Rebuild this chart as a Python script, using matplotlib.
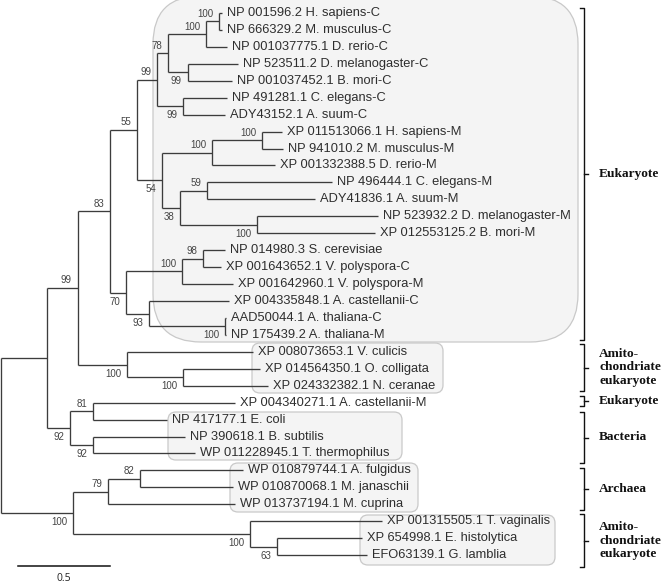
import numpy as np
import matplotlib
matplotlib.use("Agg")
import matplotlib.pyplot as plt
from matplotlib.patches import FancyBboxPatch

# ==============================================================================
# 1. Tree data (branch depths, in substitutions/site)
# ==============================================================================

leaf_names = [
    "NP 001596.2 H. sapiens-C", "NP 666329.2 M. musculus-C", "NP 001037775.1 D. rerio-C",
    "NP 523511.2 D. melanogaster-C", "NP 001037452.1 B. mori-C", "NP 491281.1 C. elegans-C",
    "ADY43152.1 A. suum-C", "XP 011513066.1 H. sapiens-M", "NP 941010.2 M. musculus-M",
    "XP 001332388.5 D. rerio-M", "NP 496444.1 C. elegans-M", "ADY41836.1 A. suum-M",
    "NP 523932.2 D. melanogaster-M", "XP 012553125.2 B. mori-M", "NP 014980.3 S. cerevisiae",
    "XP 001643652.1 V. polyspora-C", "XP 001642960.1 V. polyspora-M", "XP 004335848.1 A. castellanii-C",
    "AAD50044.1 A. thaliana-C", "NP 175439.2 A. thaliana-M", "XP 008073653.1 V. culicis",
    "XP 014564350.1 O. colligata", "XP 024332382.1 N. ceranae", "XP 004340271.1 A. castellanii-M",
    "NP 417177.1 E. coli", "NP 390618.1 B. subtilis", "WP 011228945.1 T. thermophilus",
    "WP 010879744.1 A. fulgidus", "WP 010870068.1 M. janaschii", "WP 013737194.1 M. cuprina",
    "XP 001315505.1 T. vaginalis", "XP 654998.1 E. histolytica", "EFO63139.1 G. lamblia",
]
leaf_depth = [
    1.201, 1.201, 1.228, 1.288, 1.255, 1.228, 1.217, 1.527, 1.533, 1.489, 1.799,
    1.707, 2.049, 2.033, 1.217, 1.196, 1.261, 1.239, 1.223, 1.223, 1.370, 1.408,
    1.451, 1.272, 0.902, 1.000, 1.054, 1.315, 1.261, 1.272, 2.071, 1.962, 1.989,
]

# internal nodes: ids 33.. follow the leaves (0..32)
node_children = [
    (0, 1), (33, 2), (3, 4), (34, 35), (5, 6), (36, 37), (7, 8), (39, 9), (10, 11),
    (12, 13), (41, 42), (40, 43), (38, 44), (14, 15), (46, 16), (18, 19), (17, 48),
    (47, 49), (45, 50), (21, 22), (20, 52), (51, 53), (23, 24), (25, 26), (55, 56),
    (54, 57), (27, 28), (59, 29), (31, 32), (30, 61), (60, 62), (58, 63),
]
node_depth = [
    1.185, 1.114, 1.016, 0.908, 0.989, 0.848, 1.418, 1.147, 1.120, 1.391, 0.973,
    0.875, 0.739, 1.098, 0.984, 1.217, 0.804, 0.679, 0.592, 0.989, 0.685, 0.418,
    0.500, 0.500, 0.375, 0.250, 0.755, 0.582, 1.500, 1.353, 0.391, 0.000,
]
node_support = [
    100, 100, 99, 78, 99, 99, 100, 100, 59, 100, 38, 54, 55, 98, 100, 100, 93,
    70, 83, 100, 100, 99, 81, 92, 92, None, 82, 79, 63, 100, 100, None,
]

group_names = ["Eukaryote", "Amito-\nchondriate\neukaryote", "Eukaryote",
               "Bacteria", "Archaea", "Amito-\nchondriate\neukaryote"]

scale_length = 0.5

# ==============================================================================
# 2. Layout helpers (pixel geometry of the 662x584 canvas)
# ==============================================================================

W, H = 662, 584
px_per_unit = 184.0
x_root_px = 1.0
y_first_px, y_step_px = 13.0, 16.94

n_leaf = len(leaf_names)
depth = list(leaf_depth) + list(node_depth)
ypos = list(range(n_leaf)) + [None] * len(node_children)
for k, (a, b) in enumerate(node_children):
    ypos[n_leaf + k] = (ypos[a] + ypos[b]) / 2.0

line_color = "#3c3c3c"
text_color = "#2e2e2e"
boot_color = "#444444"

fig = plt.figure(figsize=(W / 100, H / 100), dpi=100)

# background axes in pixel units for boxes and brackets
ax_px = fig.add_axes([0, 0, 1, 1])
ax_px.set_xlim(0, W)
ax_px.set_ylim(H, 0)
ax_px.axis("off")

# tree axes in tree units
ax = fig.add_axes([0, 0, 1, 1])
ax.set_xlim(-x_root_px / px_per_unit, (W - x_root_px) / px_per_unit)
ax.set_ylim((H - y_first_px) / y_step_px, -y_first_px / y_step_px)
ax.axis("off")
ax.patch.set_alpha(0)

# ==============================================================================
# 3. Shaded boxes
# ==============================================================================

boxes = [  # x0, y0, x1, y1, radius (px)
    (153, -4, 578, 342, 48),
    (252, 343, 443, 393, 8),
    (168, 412, 402, 460, 8),
    (230, 463, 418, 512, 8),
    (360, 515, 555, 565, 8),
]
for x0, y0, x1, y1, r in boxes:
    ax_px.add_patch(FancyBboxPatch((x0, y0), x1 - x0, y1 - y0,
                                   boxstyle=f"round,pad=0,rounding_size={r}",
                                   facecolor="#f4f4f4", edgecolor="#c9c9c9", linewidth=0.9))

# ==============================================================================
# 4. Tree branches, tip labels and bootstrap values
# ==============================================================================

for k, (a, b) in enumerate(node_children):
    nid = n_leaf + k
    xn = depth[nid]
    ax.plot([xn, xn], [ypos[a], ypos[b]], color=line_color, lw=0.95, solid_capstyle="butt")
    for c in (a, b):
        ax.plot([xn, depth[c]], [ypos[c], ypos[c]], color=line_color, lw=0.95, solid_capstyle="butt")

for i, name in enumerate(leaf_names):
    ax.annotate(name, (leaf_depth[i], i), xytext=(3.6, 0), textcoords="offset points",
                ha="left", va="center", fontsize=9.3, family="Liberation Sans", color=text_color)

parent_of = {}
for k, (a, b) in enumerate(node_children):
    parent_of[a] = (n_leaf + k, 0)
    parent_of[b] = (n_leaf + k, 1)

for k, s in enumerate(node_support):
    if s is None:
        continue
    nid = n_leaf + k
    upper = parent_of[nid][1] == 0
    dy = 5.4 if upper else -6.5
    ax.annotate(str(s), (depth[nid], ypos[nid]), xytext=(-4.3, dy), textcoords="offset points",
                ha="right", va="center", fontsize=7, family="Liberation Sans", color=boot_color)

# ==============================================================================
# 5. Group brackets
# ==============================================================================

brackets = [(8, 340), (344, 391), (396, 406), (412, 463), (468, 510), (514, 567)]
xb = 584
for (y0, y1), lab in zip(brackets, group_names):
    ym = (y0 + y1) / 2.0
    ax_px.plot([xb - 4, xb, xb, xb - 4], [y0, y0, y1, y1], color="#111111", lw=1.0)
    ax_px.plot([xb, xb + 4], [ym, ym], color="#111111", lw=1.0)
    ax_px.text(599, ym, lab, ha="left", va="center", fontsize=9.6, fontweight="bold",
               family="Liberation Serif", color="#111111", linespacing=1.22)

# ==============================================================================
# 6. Scale bar
# ==============================================================================

sb_x0 = (18 - x_root_px) / px_per_unit
sb_y = (566 - y_first_px) / y_step_px
ax.plot([sb_x0, sb_x0 + scale_length], [sb_y, sb_y], color="#111111", lw=1.1)
ax.annotate(f"{scale_length}", (sb_x0 + scale_length / 2, sb_y), xytext=(0, -5.0),
            textcoords="offset points", ha="center", va="top", fontsize=7.5,
            family="Open Sans", color="#222222")

fig.savefig("out.png", dpi=100)
